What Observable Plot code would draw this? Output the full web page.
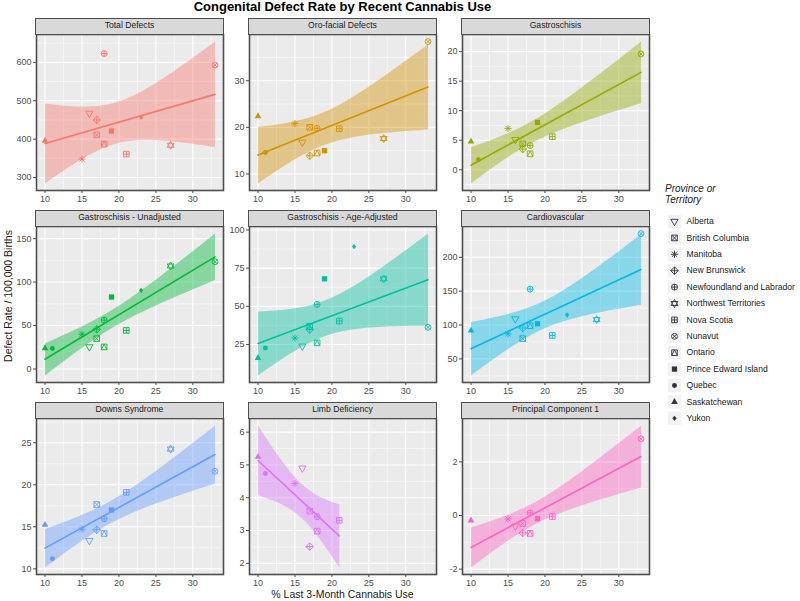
<!DOCTYPE html>
<html><head><meta charset="utf-8">
<script src="https://cdn.jsdelivr.net/npm/d3@7"></script>
<script src="https://cdn.jsdelivr.net/npm/@observablehq/plot@0.6"></script>
<style>
body{margin:0;background:#fff;font-family:"Liberation Sans",Arial,Helvetica,sans-serif;}
#root{position:relative;width:800px;height:601px;overflow:hidden;background:#fff;}
.strip{position:absolute;background:#D9D9D9;border:1.6px solid #4D4D4D;box-sizing:border-box;font-size:8.6px;color:#1A1A1A;text-align:center;line-height:13px;white-space:nowrap;}
</style></head><body><div id="root"></div>
<script>
// ---------- data ----------
const provinces = ["Alberta","British Columbia","Manitoba","New Brunswick","Newfoundland and Labrador","Northwest Territories","Nova Scotia","Nunavut","Ontario","Prince Edward Island","Quebec","Saskatchewan","Yukon"];
const cannabisUse = [16, 17, 15, 17, 18, 27, 21, 33, 18, 19, 11, 10, 23];
const panelTitles = ["Total Defects","Oro-facial Defects","Gastroschisis","Gastroschisis - Unadjusted","Gastroschisis - Age-Adjusted","Cardiovascular","Downs Syndrome","Limb Deficiency","Principal Component 1"];
const panelColors = ["#F8766D","#D39200","#93AA00","#00BA38","#00C19F","#00B9E3","#619CFF","#DB72FB","#FF61C3"];
// values in province order (null = not shown)
const totalDefects     = [467, 411, 348, 450, 623, 384, 361, 593, 387, 421, null, 396, 457];
const orofacial        = [16.8, 20.0, 20.8, 13.9, 19.8, 17.6, 19.7, 38.4, 14.5, 15.0, 14.6, 22.4, null];
const gastroschisis    = [5.1, 4.4, 7.0, 3.5, 4.1, null, 5.6, 19.6, 2.7, 8.0, 1.7, 4.8, null];
const gastroUnadjusted = [25.4, 35, 40, 45.6, 56.2, 118.5, 44.4, 123.4, 25.4, 82.8, 23.5, 24, 90.4];
const gastroAgeAdj     = [23.9, 37, 29.3, 34.8, 51.3, 68, 40.4, 36.3, 26.1, 68, 22.8, 16.3, 89.1];
const cardiovascular   = [109, 80, 87, 95.5, 153, 108, 84.6, 235, 99, 102, null, 92, 115];
const downsSyndrome    = [13.35, 17.65, 14.7, 14.65, 15.95, 24.25, 19.1, 21.6, 14.2, 17.0, 11.2, 15.25, null];
const limbDeficiency   = [4.9, 3.59, 4.43, 2.51, 3.42, null, 3.31, null, 2.98, null, 4.74, 5.25, null];
const principalComp1   = [-0.4, -0.3, -0.13, -0.65, 0.1, null, -0.04, 2.86, -0.67, -0.12, null, -0.18, null];
const panelValues = [totalDefects, orofacial, gastroschisis, gastroUnadjusted, gastroAgeAdj, cardiovascular, downsSyndrome, limbDeficiency, principalComp1];
const xTicks = [10, 15, 20, 25, 30];
const yTicks = [[300,400,500,600],[10,20,30],[0,5,10,15,20],[0,50,100,150],[0,25,50,75,100],[50,100,150,200],[10,15,20,25],[2,3,4,5,6],[-2,0,2]];
const filledShapes = ["Prince Edward Island","Quebec","Saskatchewan","Yukon"];
// two-sided 95% Student t quantiles by degrees of freedom (for axis extent only)
const tQuantile = {5: 2.571, 6: 2.447, 7: 2.365, 8: 2.306, 9: 2.262, 10: 2.228, 11: 2.201, 12: 2.179};

// ---------- symbols (ggplot shapes 6..18) ----------
const S = f => ({draw(c, size){ f(c, Math.sqrt(size / Math.PI)); }});
const circ = (c, r) => { c.moveTo(r, 0); c.arc(0, 0, r, 0, 2 * Math.PI); };
const seg = (c, a, b, e, g) => { c.moveTo(a, b); c.lineTo(e, g); };
const shapeOf = {
  "Alberta": S((c, r) => { const h = r * 1.1; c.moveTo(-h, -0.6 * h); c.lineTo(h, -0.6 * h); c.lineTo(0, 1.15 * h); c.closePath(); }),
  "British Columbia": S((c, r) => { const s = r * 0.85; c.rect(-s, -s, 2 * s, 2 * s); seg(c, -s, -s, s, s); seg(c, -s, s, s, -s); }),
  "Manitoba": S((c, r) => { const s = r * 1.1, d = s * 0.707; seg(c, -s, 0, s, 0); seg(c, 0, -s, 0, s); seg(c, -d, -d, d, d); seg(c, -d, d, d, -d); }),
  "New Brunswick": S((c, r) => { const s = r * 1.15; c.moveTo(0, -s); c.lineTo(s, 0); c.lineTo(0, s); c.lineTo(-s, 0); c.closePath(); seg(c, -s, 0, s, 0); seg(c, 0, -s, 0, s); }),
  "Newfoundland and Labrador": S((c, r) => { const s = r * 0.9; circ(c, s); seg(c, -s, 0, s, 0); seg(c, 0, -s, 0, s); }),
  "Northwest Territories": S((c, r) => { const h = r * 1.1; c.moveTo(-h * 0.95, -0.55 * h); c.lineTo(h * 0.95, -0.55 * h); c.lineTo(0, 1.1 * h); c.closePath(); c.moveTo(-h * 0.95, 0.55 * h); c.lineTo(h * 0.95, 0.55 * h); c.lineTo(0, -1.1 * h); c.closePath(); }),
  "Nova Scotia": S((c, r) => { const s = r * 0.85; c.rect(-s, -s, 2 * s, 2 * s); seg(c, -s, 0, s, 0); seg(c, 0, -s, 0, s); }),
  "Nunavut": S((c, r) => { const s = r * 0.9, d = s * 0.707; circ(c, s); seg(c, -d, -d, d, d); seg(c, -d, d, d, -d); }),
  "Ontario": S((c, r) => { const s = r * 0.85; c.rect(-s, -s, 2 * s, 2 * s); c.moveTo(-s, s); c.lineTo(0, -s); c.lineTo(s, s); }),
  "Prince Edward Island": S((c, r) => { const s = r * 0.8; c.rect(-s, -s, 2 * s, 2 * s); }),
  "Quebec": S((c, r) => { circ(c, r * 0.75); }),
  "Saskatchewan": S((c, r) => { const h = r * 1.05; c.moveTo(0, -1.1 * h); c.lineTo(h * 0.95, 0.6 * h); c.lineTo(-h * 0.95, 0.6 * h); c.closePath(); }),
  "Yukon": S((c, r) => { const s = r * 0.8; c.moveTo(0, -s); c.lineTo(s * 0.8, 0); c.lineTo(0, s); c.lineTo(-s * 0.8, 0); c.closePath(); })
};

// extent of points plus the 95% confidence band (band extremes are at the x ends)
function extentWithBand(rows) {
  const n = rows.length;
  const xm = d3.mean(rows, d => d.x), ym = d3.mean(rows, d => d.y);
  const sxx = d3.sum(rows, d => (d.x - xm) ** 2);
  const b = d3.sum(rows, d => (d.x - xm) * (d.y - ym)) / sxx;
  const a = ym - b * xm;
  const s = Math.sqrt(d3.sum(rows, d => (d.y - a - b * d.x) ** 2) / (n - 2));
  const t = tQuantile[n - 2] || 2.2;
  let lo = d3.min(rows, d => d.y), hi = d3.max(rows, d => d.y);
  for (const x of d3.extent(rows, d => d.x)) {
    const h = t * s * Math.sqrt(1 / n + (x - xm) ** 2 / sxx);
    lo = Math.min(lo, a + b * x - h);
    hi = Math.max(hi, a + b * x + h);
  }
  return [lo, hi];
}

// ---------- layout ----------
const FONT = "'Liberation Sans', Arial, Helvetica, sans-serif";
const root = document.getElementById("root");
function addDiv(text, css, cls) {
  const d = document.createElement("div");
  if (cls) d.className = cls;
  d.textContent = text;
  d.style.cssText = "position:absolute;" + css;
  root.appendChild(d);
  return d;
}
const colLeft = [36, 249, 462], rowTop = [34, 226, 418], PW = 187, PH = 156;
const ML = 36, MR = 8, MT = 2, MB = 22;
const xDomain = [8.85, 34.15];
const xMinor = [7.5, 12.5, 17.5, 22.5, 27.5, 32.5].filter(v => v >= xDomain[0] && v <= xDomain[1]);

panelTitles.forEach((title, k) => {
  const col = k % 3, row = Math.floor(k / 3);
  const color = panelColors[k];
  const vals = panelValues[k];
  const rows = provinces.map((p, i) => ({prov: p, x: cannabisUse[i], y: vals[i]})).filter(d => d.y != null);
  const [lo, hi] = extentWithBand(rows);
  const pad = (hi - lo) * 0.05;
  const yDom = [lo - pad, hi + pad];
  const maj = yTicks[k];
  const step = maj[1] - maj[0];
  const yMajor = maj.filter(v => v >= yDom[0] && v <= yDom[1]);
  const yMinor = [maj[0] - step / 2, ...maj.map(v => v + step / 2)].filter(v => v >= yDom[0] && v <= yDom[1]);

  const dots = rows.map(d => {
    const filled = filledShapes.includes(d.prov);
    return Plot.dot([d], {x: "x", y: "y", symbol: shapeOf[d.prov], r: 3.3,
      fill: filled ? color : "none", stroke: filled ? "none" : color, strokeWidth: 0.9});
  });

  const svg = Plot.plot({
    width: PW + ML + MR, height: PH + MT + MB,
    marginLeft: ML, marginRight: MR, marginTop: MT, marginBottom: MB,
    style: {background: "transparent", fontSize: "9px", fontFamily: FONT, color: "#4D4D4D", overflow: "visible"},
    x: {domain: xDomain, ticks: xTicks, tickSize: 3, tickPadding: 2, label: null, tickFormat: d => String(d)},
    y: {domain: yDom, ticks: yMajor, tickSize: 3, tickPadding: 2, label: null, tickFormat: d => String(d)},
    marks: [
      Plot.frame({fill: "#EBEBEB"}),
      Plot.ruleX(xMinor, {stroke: "white", strokeWidth: 0.5}),
      Plot.ruleY(yMinor, {stroke: "white", strokeWidth: 0.5}),
      Plot.ruleX(xTicks, {stroke: "white", strokeWidth: 1.1}),
      Plot.ruleY(yMajor, {stroke: "white", strokeWidth: 1.1}),
      ...dots,
      Plot.linearRegressionY(rows, {x: "x", y: "y", stroke: color, fill: color, fillOpacity: 0.42, strokeWidth: 1.6, ci: 0.95}),
      Plot.frame({stroke: "#4D4D4D", strokeWidth: 1.6})
    ]
  });
  svg.style.position = "absolute";
  svg.style.left = (colLeft[col] - ML) + "px";
  svg.style.top = (rowTop[row] - MT) + "px";
  svg.style.overflow = "visible";
  root.appendChild(svg);
  addDiv(title, `left:${colLeft[col] - 0.8}px;top:${rowTop[row] - 16}px;width:${PW + 1.6}px;height:16.8px;`, "strip");
});

// ---------- titles ----------
addDiv("Congenital Defect Rate by Recent Cannabis Use",
  `left:0;width:685px;top:-1px;text-align:center;font:bold 13px ${FONT};color:#000;`);
addDiv("% Last 3-Month Cannabis Use",
  `left:0;width:685px;top:588px;text-align:center;font:10.5px ${FONT};color:#1A1A1A;`);
addDiv("Defect Rate / 100,000 Births",
  `left:${9 - 100}px;top:${296 - 7}px;width:200px;height:14px;text-align:center;font:10.5px ${FONT};color:#1A1A1A;transform:rotate(-90deg);`);

// ---------- legend ----------
addDiv("Province or\nTerritory",
  `left:665px;top:184px;white-space:pre;font:italic 10px ${FONT};line-height:10.5px;color:#1A1A1A;`);
const legendItems = provinces.map((p, i) => ({p, i}));
const LY0 = 9, LSTEP = 16.4;
const legend = Plot.plot({
  width: 140, height: 220, margin: 0,
  style: {background: "transparent", fontFamily: FONT, overflow: "visible"},
  x: {domain: [0, 140], range: [0, 140], axis: null},
  y: {domain: [0, 220], range: [0, 220], axis: null},
  marks: [
    Plot.dot(legendItems, {x: 14, y: d => LY0 + d.i * LSTEP, symbol: "square", r: 7.6, fill: "#F2F2F2", stroke: "none"}),
    ...legendItems.map(d => {
      const filled = filledShapes.includes(d.p);
      return Plot.dot([d], {x: 14, y: e => LY0 + e.i * LSTEP, symbol: shapeOf[d.p], r: 3.3,
        fill: filled ? "#333" : "none", stroke: filled ? "none" : "#333", strokeWidth: 0.9});
    }),
    Plot.text(legendItems, {x: 26, y: d => LY0 + d.i * LSTEP, text: "p", textAnchor: "start", fontSize: 8.6, fill: "#1A1A1A"})
  ]
});
legend.style.position = "absolute";
legend.style.left = "660px";
legend.style.top = (221 - LY0) + "px";
root.appendChild(legend);
</script>
</body></html>
